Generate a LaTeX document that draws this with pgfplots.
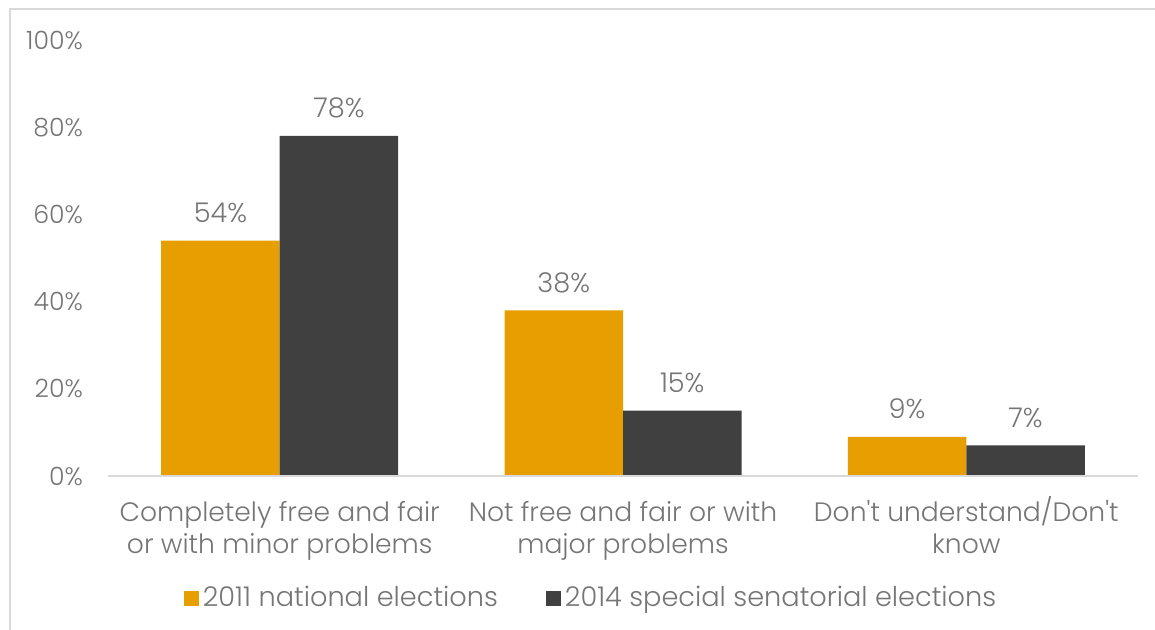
\documentclass[border=0pt]{standalone}
\usepackage{pgfplots}
\pgfplotsset{compat=1.18}
\usepackage{fontspec}
\setmainfont{Poppins}[UprightFont=* Light, Ligatures=TeXOff]
\definecolor{cOrange}{HTML}{E69E00}
\definecolor{cDark}{HTML}{404040}
\definecolor{cText}{HTML}{767676}
\definecolor{cAxis}{HTML}{D9D9D9}
\begin{document}
\begin{tikzpicture}
\useasboundingbox (0,0) rectangle (577.5pt,315pt);
\fill[white] (0,0) rectangle (577.5pt,315pt);
\draw[cAxis, line width=0.8pt] (5pt,-5pt) rectangle (590pt,310.5pt);
\begin{axis}[
  at={(54pt,77pt)}, anchor=south west,
  scale only axis, width=515pt, height=218pt,
  ybar=0pt, bar width=59.25pt,
  xmin=-0.5, xmax=2.5, ymin=0, ymax=100,
  xtick=data,
  xticklabels={\vphantom{/}Completely free and fair\\or with minor problems, \vphantom{/}Not free and fair or with\\major problems, \vphantom{/}Don't understand/Don't\\know},
  ytick={0,20,40,60,80,100},
  yticklabel={\pgfmathprintnumber{\tick}\%},
  /pgf/number format/assume math mode=true,
  axis line style={draw=none},
  axis x line*=bottom, axis y line*=left,
  major tick length=0pt,
  tick style={draw=none},
  yticklabel style={font=\fontsize{12.6}{15}\selectfont, text=cText, xshift=-9pt},
  xticklabel style={font=\fontsize{13.3}{16}\selectfont, text=cText, align=center, yshift=-6.5pt},
  nodes near coords={\pgfmathprintnumber{\pgfplotspointmeta}\%},
  nodes near coords style={font=\fontsize{13.6}{16}\selectfont, text=cText, anchor=base, yshift=9pt},
  legend style={at={(0.47,-0.28)}, anchor=center, draw=none, fill=none,
    legend columns=2, font=\fontsize{13.6}{16}\selectfont, text=cText,
    /tikz/every even column/.append style={column sep=22pt}},
  clip=false,
]
\addplot[fill=cOrange, draw=none, legend image code/.code={\fill[cOrange] (0pt,-3.75pt) rectangle (7.5pt,3.75pt);}] coordinates {(0,54) (1,38) (2,9)};
\addplot[fill=cDark, draw=none, legend image code/.code={\fill[cDark] (0pt,-3.75pt) rectangle (7.5pt,3.75pt);}] coordinates {(0,78) (1,15) (2,7)};
\draw[cAxis, line width=1pt] (rel axis cs:0,0) -- (rel axis cs:1,0);
\legend{2011 national elections, 2014 special senatorial elections}
\end{axis}
\end{tikzpicture}
\end{document}
